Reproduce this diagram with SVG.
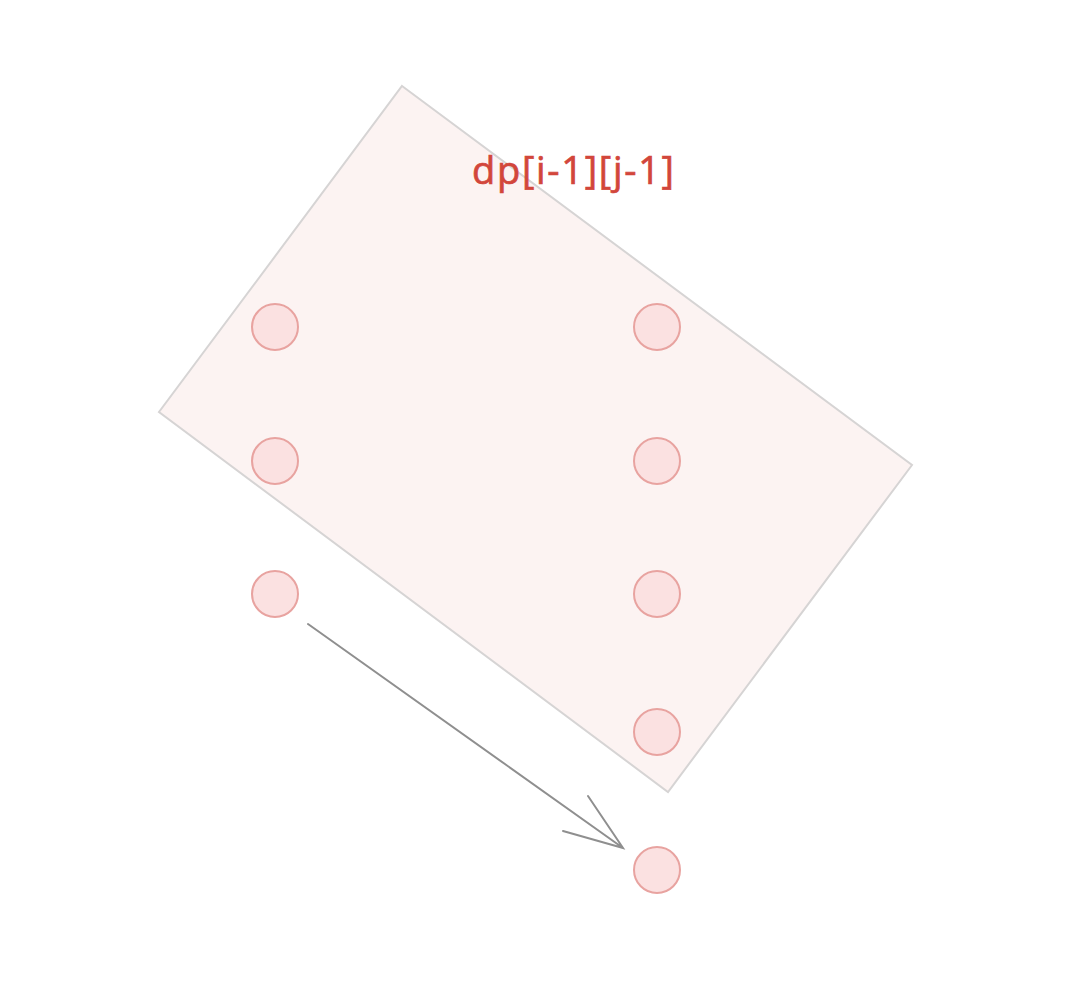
<svg xmlns="http://www.w3.org/2000/svg" width="1086" height="1000" viewBox="0 0 1086 1000">
<style>
.n{fill:#fbe1e1;stroke:#e8a3a0;stroke-width:2}
.c{fill:none;stroke:#8f8f8f;stroke-width:2;stroke-linecap:round}
.t{font-family:"Open Sans","Liberation Sans",sans-serif;font-size:38px;fill:#d2463b;stroke:#d2463b;stroke-width:0.7}
</style>
<rect width="1086" height="1000" fill="#ffffff"/>
<g id="region">
<polygon points="402,86 912,465 668,792 159,412" fill="#fcf3f2" stroke="#d6d4d4" stroke-width="2"/>
</g>
<g id="label"><text class="t" x="472" y="184" textLength="202" lengthAdjust="spacing">dp[i-1][j-1]</text></g>
<g id="n1"><circle class="n" cx="275" cy="327" r="23"/></g>
<g id="n2"><circle class="n" cx="657" cy="327" r="23"/></g>
<g id="n3"><circle class="n" cx="275" cy="461" r="23"/></g>
<g id="n4"><circle class="n" cx="657" cy="461" r="23"/></g>
<g id="n5"><circle class="n" cx="275" cy="594" r="23"/></g>
<g id="n6"><circle class="n" cx="657" cy="594" r="23"/></g>
<g id="n7"><circle class="n" cx="657" cy="732" r="23"/></g>
<g id="n8"><circle class="n" cx="657" cy="870" r="23"/></g>
<g id="connectors">
<path class="c" d="M308,624 L623,848 M588,796 L623,848 L563,831"/>
</g>
</svg>
